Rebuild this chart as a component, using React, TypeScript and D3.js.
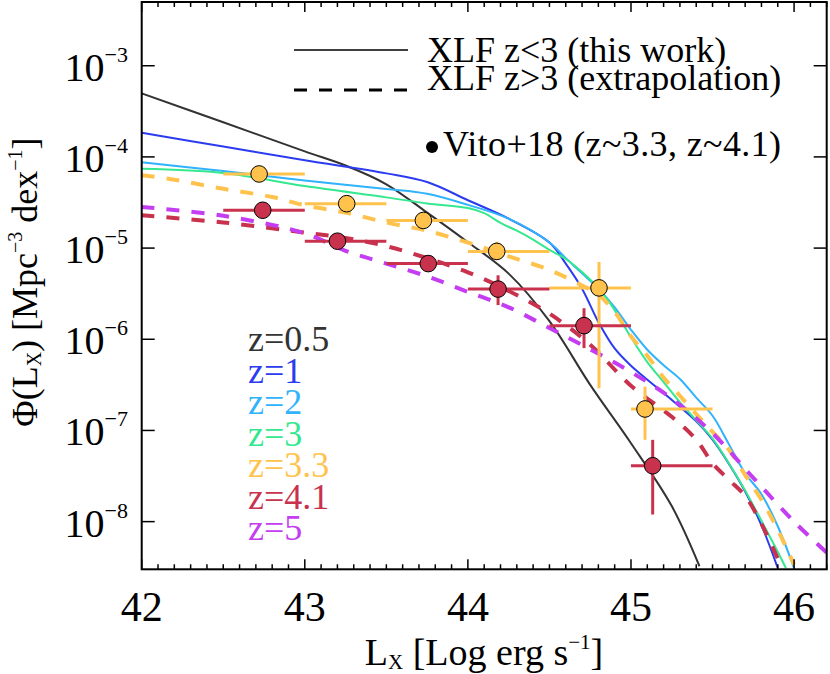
import React from 'react';
import * as d3 from 'd3';

// ---------- data ----------
const redshiftLabels = ['z=0.5', 'z=1', 'z=2', 'z=3', 'z=3.3', 'z=4.1', 'z=5'];
const seriesColors = ['#333333', '#2b3cf0', '#30b2fc', '#35e88f', '#ffc34d', '#c8324c', '#c43df2'];
const seriesDashed = [false, false, false, false, true, true, true];

const z05_x = [42, 42.5, 43, 43.25, 43.5, 43.75, 44, 44.25, 44.5, 44.75, 45, 45.25, 45.42];
const z05_phi = [4.98e-4, 2.4e-4, 1.15e-4, 8.05e-5, 5.01e-5, 2.45e-5, 1.16e-5, 5.25e-6, 1.58e-6, 3.16e-7, 7.24e-8, 1.48e-8, 3.24e-9];

const z1_x = [42, 42.5, 43, 43.5, 43.75, 44, 44.25, 44.5, 44.6, 44.7, 44.8, 44.9, 45, 45.2, 45.4, 45.5, 45.6, 45.7, 45.8, 45.9];
const z1_phi = [1.84e-4, 1.3e-4, 9.18e-5, 6.6e-5, 5.3e-5, 3.35e-5, 2.1e-5, 1.15e-5, 6.76e-6, 3.59e-6, 1.55e-6, 7.94e-7, 5.13e-7, 2.57e-7, 1.26e-7, 7.94e-8, 4.32e-8, 2.14e-8, 9.12e-9, 3.09e-9];

const z2_x = [42, 42.5, 43, 43.5, 43.75, 44, 44.25, 44.5, 44.6, 44.7, 44.8, 44.9, 45, 45.1, 45.2, 45.3, 45.4, 45.5, 45.6, 45.7, 45.8, 45.9, 46];
const z2_phi = [8.75e-5, 7.0e-5, 5.52e-5, 4.46e-5, 3.94e-5, 2.98e-5, 2.1e-5, 1.15e-5, 7.76e-6, 5.3e-6, 3.59e-6, 2.24e-6, 1.27e-6, 7.67e-7, 5.19e-7, 3.67e-7, 2.29e-7, 1.45e-7, 7.08e-8, 3.39e-8, 2.0e-8, 8.9e-9, 3.09e-9];

const z3_x = [42, 42.5, 43, 43.5, 43.75, 44, 44.1, 44.2, 44.3, 44.4, 44.5, 44.6, 44.7, 44.8, 44.9, 45, 45.1, 45.2, 45.3, 45.4, 45.5, 45.6, 45.7, 45.8, 45.9, 45.95];
const z3_phi = [7.41e-5, 6.67e-5, 4.79e-5, 3.6e-5, 3.09e-5, 2.75e-5, 2.42e-5, 1.89e-5, 1.55e-5, 1.24e-5, 9.55e-6, 7.59e-6, 5.47e-6, 3.63e-6, 2.09e-6, 1.05e-6, 5.62e-7, 3.39e-7, 2.04e-7, 1.29e-7, 8.13e-8, 4.37e-8, 2.19e-8, 1.02e-8, 4.68e-9, 3.09e-9];

const z33_x = [42, 42.2, 42.5, 42.8, 43, 43.25, 43.5, 43.75, 44, 44.25, 44.5, 44.7, 44.8, 44.9, 45, 45.1, 45.2, 45.3, 45.4, 45.5, 45.6, 45.7, 45.8, 45.9, 46];
const z33_phi = [6.31e-5, 5.62e-5, 4.47e-5, 3.63e-5, 2.95e-5, 2.45e-5, 1.91e-5, 1.55e-5, 1.15e-5, 8.13e-6, 5.75e-6, 3.89e-6, 3.09e-6, 2.0e-6, 1.08e-6, 6.61e-7, 3.8e-7, 2.4e-7, 1.51e-7, 9.66e-8, 6.17e-8, 3.24e-8, 1.74e-8, 8.13e-9, 3.39e-9];

const z41_x = [42, 42.5, 43, 43.25, 43.5, 43.75, 44, 44.25, 44.5, 44.75, 45, 45.25, 45.4, 45.5, 45.6, 45.7, 45.8, 45.93];
const z41_phi = [2.29e-5, 1.91e-5, 1.48e-5, 1.29e-5, 1.05e-5, 7.76e-6, 5.43e-6, 3.39e-6, 1.91e-6, 8.71e-7, 3.09e-7, 1.41e-7, 7.94e-8, 4.37e-8, 2.88e-8, 1.91e-8, 9.44e-9, 2.99e-9];

const z5_x = [42, 42.5, 43, 43.25, 43.5, 43.75, 44, 44.25, 44.5, 44.75, 45, 45.25, 45.5, 45.75, 46, 46.2];
const z5_phi = [2.82e-5, 2.26e-5, 1.45e-5, 9.33e-6, 6.76e-6, 4.9e-6, 3.31e-6, 2.24e-6, 1.33e-6, 7.76e-7, 4.37e-7, 2.24e-7, 9.33e-8, 3.02e-8, 1.0e-8, 4.57e-9];

const seriesX = [z05_x, z1_x, z2_x, z3_x, z33_x, z41_x, z5_x];
const seriesPhi = [z05_phi, z1_phi, z2_phi, z3_phi, z33_phi, z41_phi, z5_phi];

// Vito+18 binned points
const vito33_x = [42.72, 43.257, 43.727, 44.177, 44.804, 45.086];
const vito33_phi = [6.5e-5, 3.07e-5, 2.01e-5, 9.2e-6, 3.66e-6, 1.72e-7];
const vito33_hi = [6.9e-5, 3.3e-5, 2.15e-5, 1.17e-5, 7.05e-6, 3.02e-7];
const vito33_lo = [6.1e-5, 2.85e-5, 1.88e-5, 7.36e-6, 2.9e-7, 7.89e-8];

const vito41_x = [42.742, 43.2, 43.757, 44.185, 44.712, 45.133];
const vito41_phi = [2.6e-5, 1.19e-5, 6.76e-6, 3.55e-6, 1.41e-6, 4.1e-8];
const vito41_hi = [2.8e-5, 1.28e-5, 7.3e-6, 5.03e-6, 2.19e-6, 7.89e-8];
const vito41_lo = [2.42e-5, 1.1e-5, 6.3e-6, 2.37e-6, 8.0e-7, 1.2e-8];

const binLo = [42.5, 43.0, 43.5, 44.0, 44.5, 45.0];
const binHi = [43.0, 43.5, 44.0, 44.5, 45.0, 45.5];

const xTickLabels = [42, 43, 44, 45, 46];
const yTickValues = [1e-3, 1e-4, 1e-5, 1e-6, 1e-7, 1e-8];
const yTickExponents = ['−3', '−4', '−5', '−6', '−7', '−8'];

// ---------- layout ----------
const W = 830, H = 674;
const X0 = 141.7, X1 = 826.7, Y0 = 2, Y1 = 569.3;
const FONT = '"Liberation Serif", "Times New Roman", Times, serif';

export default function App() {
  const x = d3.scaleLinear().domain([42, 46.2]).range([X0, X1]);
  const y = d3.scaleLog().domain([3e-9, 5e-3]).range([Y1, Y0]);
  const line = d3
    .line<[number, number]>()
    .x((d) => x(d[0]))
    .y((d) => y(d[1]))
    .curve(d3.curveCatmullRom.alpha(0.5));

  const minorTicks = d3.range(0, 43).map((i) => 42 + i * 0.1).filter((v) => v <= 46.2 + 1e-9);

  const pointSets = [
    { xs: vito33_x, ph: vito33_phi, hi: vito33_hi, lo: vito33_lo, color: seriesColors[4] },
    { xs: vito41_x, ph: vito41_phi, hi: vito41_hi, lo: vito41_lo, color: seriesColors[5] },
  ];

  return (
    <svg width={W} height={H} style={{ position: 'absolute', left: 0, top: 0, background: '#fff' }} fontFamily={FONT}>
      <defs>
        <clipPath id="plotclip">
          <rect x={X0} y={Y0} width={X1 - X0} height={Y1 - Y0} />
        </clipPath>
      </defs>
      <rect x={0} y={0} width={W} height={H} fill="#fff" />

      {/* curves */}
      <g clipPath="url(#plotclip)">
        {seriesX.map((xs, i) => {
          const pts = xs.map((v, j) => [v, seriesPhi[i][j]] as [number, number]);
          return (
            <path
              key={i}
              d={line(pts) || ''}
              fill="none"
              stroke={seriesColors[i]}
              strokeWidth={seriesDashed[i] ? 4 : 2}
              strokeDasharray={seriesDashed[i] ? '13 12' : undefined}
            />
          );
        })}
      </g>

      {/* data points */}
      <g clipPath="url(#plotclip)">
        {pointSets.map((s, k) => (
          <g key={k}>
            {s.xs.map((v, j) => (
              <g key={j}>
                <line x1={x(binLo[j])} x2={x(binHi[j])} y1={y(s.ph[j])} y2={y(s.ph[j])} stroke={s.color} strokeWidth={3} />
                <line x1={x(v)} x2={x(v)} y1={y(s.hi[j])} y2={y(s.lo[j])} stroke={s.color} strokeWidth={3} />
              </g>
            ))}
          </g>
        ))}
        {pointSets.map((s, k) => (
          <g key={'c' + k}>
            {s.xs.map((v, j) => (
              <circle key={j} cx={x(v)} cy={y(s.ph[j])} r={8.3} fill={s.color} stroke="#000" strokeWidth={1} />
            ))}
          </g>
        ))}
      </g>

      {/* frame */}
      <rect x={X0} y={Y0} width={X1 - X0} height={Y1 - Y0} fill="none" stroke="#000" strokeWidth={2} />

      {/* x ticks (bottom and top) */}
      {minorTicks.map((v, i) => {
        const major = Math.abs(v - Math.round(v)) < 1e-6;
        const len = major ? 10 : 5;
        const px = x(v);
        return (
          <g key={i} stroke="#000" strokeWidth={1.5}>
            <line x1={px} x2={px} y1={Y1} y2={Y1 - len} />
            <line x1={px} x2={px} y1={Y0} y2={Y0 + len} />
          </g>
        );
      })}
      {xTickLabels.map((v) => (
        <text key={v} x={x(v)} y={621} fontSize={42} textAnchor="middle" fill="#000">
          {v}
        </text>
      ))}

      {/* y ticks (left and right) */}
      {yTickValues.map((v, i) => {
        const py = y(v);
        return (
          <g key={i}>
            <line x1={X0} x2={X0 + 13} y1={py} y2={py} stroke="#000" strokeWidth={1.5} />
            <line x1={X1} x2={X1 - 13} y1={py} y2={py} stroke="#000" strokeWidth={1.5} />
            <text x={128} y={py + 15} textAnchor="end" fontSize={40} fill="#000">
              10
              <tspan fontSize={22} dy={-19}>
                {yTickExponents[i]}
              </tspan>
            </text>
          </g>
        );
      })}

      {/* axis titles */}
      <text x={484} y={665} textAnchor="middle" fontSize={38} fill="#000">
        L<tspan fontSize={21} dy={4}>X</tspan>
        <tspan dy={-4}> [Log erg s</tspan>
        <tspan fontSize={21} dy={-16}>−1</tspan>
        <tspan dy={16}>]</tspan>
      </text>
      <text x={37} y={282} transform="rotate(-90 37 282)" textAnchor="middle" fontSize={36} fill="#000">
        Φ(L<tspan fontSize={20} dy={4}>X</tspan>
        <tspan dy={-4}>) [Mpc</tspan>
        <tspan fontSize={20} dy={-15}>−3</tspan>
        <tspan dy={15}> dex</tspan>
        <tspan fontSize={20} dy={-15}>−1</tspan>
        <tspan dy={15}>]</tspan>
      </text>

      {/* legend */}
      <line x1={294} x2={408} y1={50} y2={50} stroke="#000" strokeWidth={1.5} />
      <text x={427} y={62} fontSize={36} fill="#000">XLF z&lt;3 (this work)</text>
      <line x1={294} x2={408} y1={90} y2={90} stroke="#000" strokeWidth={3} strokeDasharray="13 12" />
      <text x={427} y={90} fontSize={36} fill="#000">XLF z&gt;3 (extrapolation)</text>
      <circle cx={432} cy={147} r={6} fill="#000" />
      <text x={443} y={156} fontSize={36} fill="#000" textLength={338} lengthAdjust="spacing">Vito+18 (z~3.3, z~4.1)</text>

      {redshiftLabels.map((t, i) => (
        <text key={t} x={248} y={351 + i * 31.5} fontSize={36} fill={seriesColors[i]}>
          {t}
        </text>
      ))}
    </svg>
  );
}
